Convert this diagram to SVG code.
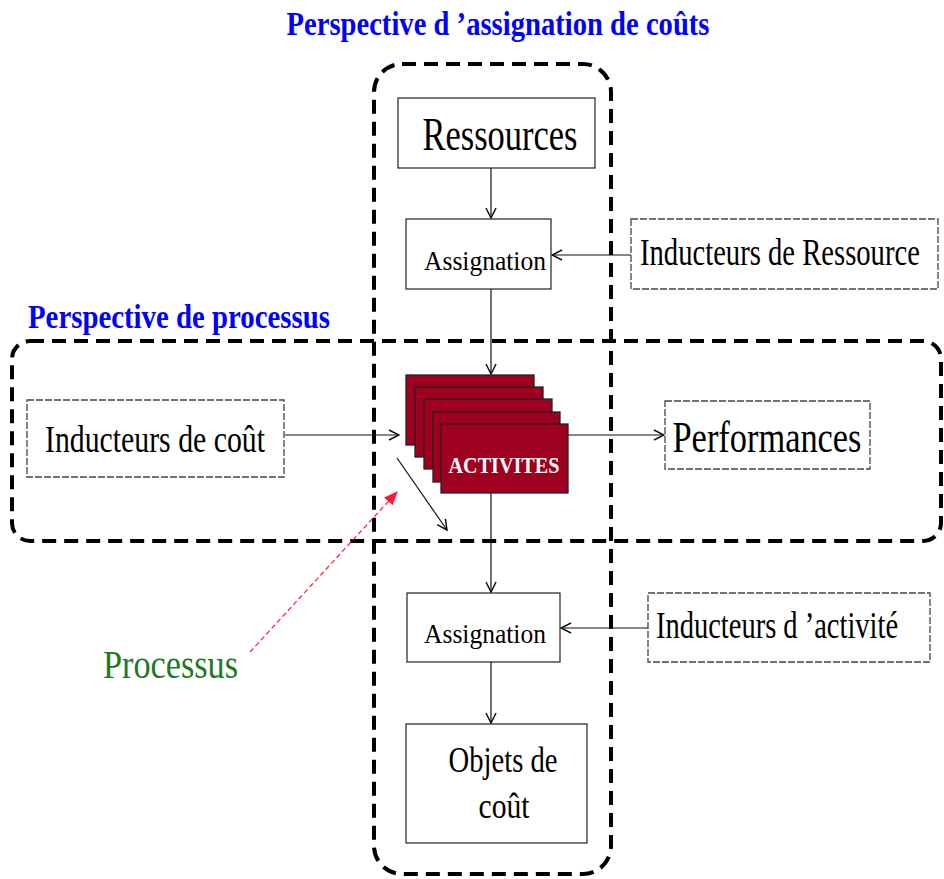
<svg xmlns="http://www.w3.org/2000/svg" width="944" height="879" viewBox="0 0 944 879">
<style>
.big{fill:none;stroke:#000;stroke-width:4;stroke-dasharray:14 8}
.box{fill:#fff;stroke:#222;stroke-width:1.2}
.dbox{fill:#fff;stroke:#444;stroke-width:1.3;stroke-dasharray:7 2}
.card{fill:#a0001f;stroke:#222;stroke-width:1.3}
.t{font-family:"Liberation Serif","Times New Roman",serif;fill:#000}
.ttl{font-family:"Liberation Serif","Times New Roman",serif;font-weight:bold;fill:#0000ff}
.conn line{stroke:#111;stroke-width:1.2}
</style>
<defs>
<marker id="ah" viewBox="0 0 12 12" refX="11" refY="6" markerWidth="12" markerHeight="12" markerUnits="userSpaceOnUse" orient="auto">
<path d="M1,1 L11,6 L1,11" fill="none" stroke="#111" stroke-width="1.5"/>
</marker>
<marker id="rh" viewBox="0 0 12 12" refX="11" refY="6" markerWidth="14" markerHeight="14" markerUnits="userSpaceOnUse" orient="auto">
<path d="M0,1 L12,6 L0,11 Z" fill="#ff1a3c"/>
</marker>
</defs>

<g id="perspective-couts">
<rect class="big" x="374" y="64" width="237" height="810" rx="28"/>
<text class="ttl" x="498" y="35" font-size="34" text-anchor="middle" textLength="423" lengthAdjust="spacingAndGlyphs">Perspective d ’assignation de coûts</text>
</g>
<g id="perspective-processus">
<rect class="big" x="12" y="341" width="929" height="200" rx="18"/>
<text class="ttl" x="28" y="328" font-size="33" textLength="302" lengthAdjust="spacingAndGlyphs">Perspective de processus</text>
</g>

<g class="conn" id="connectors">
<line x1="491" y1="168" x2="491" y2="218" marker-end="url(#ah)"/>
<line x1="631" y1="255" x2="552" y2="255" marker-end="url(#ah)"/>
<line x1="491" y1="289" x2="491" y2="374" marker-end="url(#ah)"/>
<line x1="285" y1="435" x2="399" y2="435" marker-end="url(#ah)"/>
<line x1="568" y1="435" x2="664" y2="435" marker-end="url(#ah)"/>
<line x1="397" y1="458" x2="447" y2="530" marker-end="url(#ah)"/>
<line x1="491" y1="493" x2="491" y2="592" marker-end="url(#ah)"/>
<line x1="648" y1="628" x2="561" y2="628" marker-end="url(#ah)"/>
<line x1="491" y1="662" x2="491" y2="723" marker-end="url(#ah)"/>
<line x1="250" y1="652" x2="397" y2="492" stroke-width="1.4" stroke-dasharray="5 3" marker-end="url(#rh)" style="stroke:#ff1a3c"/>
</g>

<g id="ressources">
<rect class="box" x="398" y="98" width="197" height="70"/>
<text class="t" x="500" y="150" font-size="46" text-anchor="middle" textLength="155" lengthAdjust="spacingAndGlyphs">Ressources</text>
</g>
<g id="assignation1">
<rect class="box" x="406" y="219" width="145" height="70"/>
<text class="t" x="485" y="270" font-size="28" text-anchor="middle" textLength="122" lengthAdjust="spacingAndGlyphs">Assignation</text>
</g>
<g id="inducteurs-ressource">
<rect class="dbox" x="631" y="219" width="307" height="70"/>
<text class="t" transform="translate(640,265) scale(0.774,1)" x="0" y="0" font-size="37">Inducteurs de Ressource</text>
</g>
<g id="inducteurs-cout">
<rect class="dbox" x="27" y="400" width="257" height="77"/>
<text class="t" x="45" y="452" font-size="37" textLength="220" lengthAdjust="spacingAndGlyphs">Inducteurs de coût</text>
</g>
<g id="activites">
<rect class="card" x="406" y="375" width="128" height="70"/>
<rect class="card" x="415" y="387" width="128" height="70"/>
<rect class="card" x="424" y="399" width="128" height="70"/>
<rect class="card" x="433" y="412" width="127" height="70"/>
<rect class="card" x="441" y="424" width="127" height="69"/>
<text x="504" y="473" font-family="Liberation Serif, Times New Roman, serif" font-weight="bold" font-size="23" fill="#fff" text-anchor="middle" textLength="111" lengthAdjust="spacingAndGlyphs">ACTIVITES</text>
</g>
<g id="performances">
<rect class="dbox" x="665" y="401" width="205" height="68"/>
<text class="t" x="767" y="452" font-size="44" text-anchor="middle" textLength="189" lengthAdjust="spacingAndGlyphs">Performances</text>
</g>
<g id="assignation2">
<rect class="box" x="407" y="593" width="153" height="69"/>
<text class="t" x="485" y="643" font-size="28" text-anchor="middle" textLength="122" lengthAdjust="spacingAndGlyphs">Assignation</text>
</g>
<g id="inducteurs-activite">
<rect class="dbox" x="648" y="593" width="282" height="69"/>
<text class="t" transform="translate(656,638) scale(0.77,1)" x="0" y="0" font-size="37">Inducteurs d ’activité</text>
</g>
<g id="objets-cout">
<rect class="box" x="406" y="724" width="181" height="119"/>
<text class="t" x="503" y="772" font-size="35" text-anchor="middle" textLength="109" lengthAdjust="spacingAndGlyphs">Objets de</text>
<text class="t" x="504" y="818" font-size="35" text-anchor="middle" textLength="51" lengthAdjust="spacingAndGlyphs">coût</text>
</g>
<g id="processus">
<text x="103" y="678" font-family="Liberation Serif, Times New Roman, serif" font-size="41" fill="#1e7a1e" textLength="135" lengthAdjust="spacingAndGlyphs">Processus</text>
</g>
</svg>
